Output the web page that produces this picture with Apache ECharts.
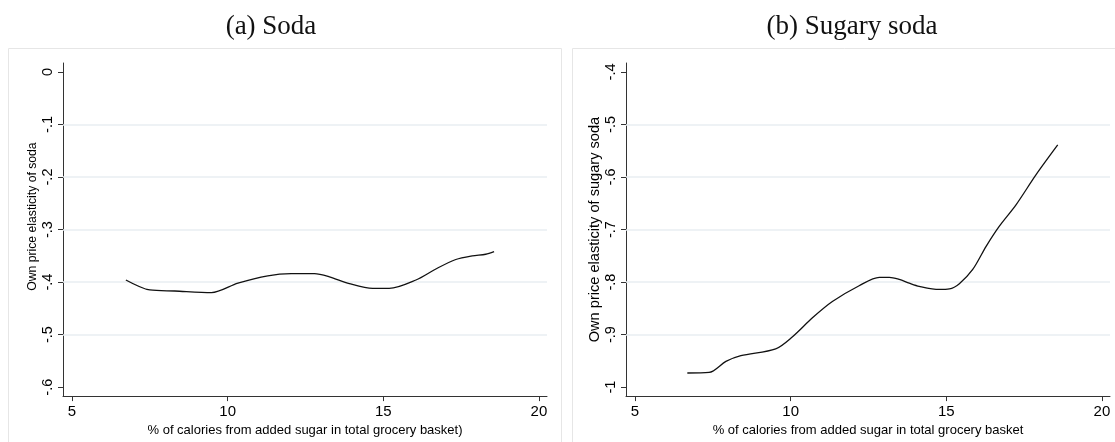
<!DOCTYPE html>
<html>
<head>
<meta charset="utf-8">
<script src="https://cdn.jsdelivr.net/npm/echarts@6/dist/echarts.min.js"></script>
<style>html,body{margin:0;padding:0;background:#fff;}#c{width:1115px;height:442px;}</style>
</head>
<body>
<div id="c"></div>
<script>
// ---- data ----
const panelTitles = ['(a) Soda', '(b) Sugary soda'];
const xTitleA = '% of calories from added sugar in total grocery basket)';
const xTitleB = '% of calories from added sugar in total grocery basket';
const yTitleA = 'Own price elasticity of soda';
const yTitleB = 'Own price elasticity of sugary soda';

const xTicks = [5, 10, 15, 20];
const xTickLabels = ['5', '10', '15', '20'];

const sodaYTicks = [0, -0.1, -0.2, -0.3, -0.4, -0.5, -0.6];
const sodaYTickLabels = ['0', '-.1', '-.2', '-.3', '-.4', '-.5', '-.6'];
const sodaGrid = [-0.1, -0.2, -0.3, -0.4, -0.5];

const sugYTicks = [-0.4, -0.5, -0.6, -0.7, -0.8, -0.9, -1];
const sugYTickLabels = ['-.4', '-.5', '-.6', '-.7', '-.8', '-.9', '-1'];
const sugGrid = [-0.5, -0.6, -0.7, -0.8, -0.9];

const sodaX = [6.73, 7.50, 8.30, 9.48, 10.33, 11.29, 12.04, 12.79, 13.27, 13.91, 14.66, 15.19, 16.05, 16.69, 17.33, 17.86, 18.29, 18.56];
const sodaY = [-0.396, -0.415, -0.417, -0.420, -0.402, -0.388, -0.384, -0.384, -0.390, -0.403, -0.412, -0.412, -0.396, -0.375, -0.357, -0.350, -0.347, -0.342];

const sugX = [6.68, 7.38, 7.92, 8.40, 9.52, 10.06, 10.70, 11.34, 12.20, 12.85, 13.17, 13.49, 13.81, 14.13, 14.77, 15.10, 15.42, 15.85, 16.28, 16.70, 17.24, 17.88, 18.58];
const sugY = [-0.973, -0.972, -0.951, -0.940, -0.927, -0.904, -0.868, -0.837, -0.807, -0.791, -0.791, -0.795, -0.802, -0.808, -0.814, -0.813, -0.803, -0.776, -0.732, -0.694, -0.653, -0.596, -0.539];

// ---- chart ----
function lookup(vals, labels) {
  return function (v) {
    for (let i = 0; i < vals.length; i++) if (Math.abs(vals[i] - v) < 1e-6) return labels[i];
    return '';
  };
}
const axisColor = '#333';
const sans = 'Liberation Sans, Arial, sans-serif';
const gridColor = '#e9eef2';

function xAxisCfg(gi, name) {
  return {
    gridIndex: gi, type: 'value', min: 4.71, max: 20.26,
    axisLine: { show: true, onZero: false, lineStyle: { color: axisColor, width: 1 } },
    axisTick: { show: true, length: 5, customValues: xTicks, lineStyle: { color: axisColor } },
    axisLabel: { customValues: xTicks, formatter: lookup(xTicks, xTickLabels), margin: 8, fontSize: 15, color: '#000', fontFamily: sans },
    splitLine: { show: false },
    name: name, nameLocation: 'middle', nameGap: 19,
    nameTextStyle: { fontSize: 13, color: '#000', fontFamily: sans }
  };
}
function yAxisCfg(gi, min, max, ticks, labels, name, nameSize, gap, pad) {
  return {
    gridIndex: gi, type: 'value', min: min, max: max,
    axisLine: { show: true, onZero: false, lineStyle: { color: axisColor, width: 1 } },
    axisTick: { show: true, length: 5, customValues: ticks, lineStyle: { color: axisColor } },
    axisLabel: { customValues: ticks, formatter: lookup(ticks, labels), rotate: 90, margin: 8, fontSize: 14.5, color: '#000', fontFamily: sans },
    splitLine: { show: false },
    name: name, nameLocation: 'middle', nameGap: gap, nameRotate: 90,
    nameTextStyle: { fontSize: nameSize, color: '#000', fontFamily: sans, padding: pad }
  };
}
function gridLines(vals) {
  return {
    silent: true, symbol: 'none', label: { show: false },
    lineStyle: { color: gridColor, width: 1.5, type: 'solid' },
    data: vals.map(v => ({ yAxis: v }))
  };
}

const chart = echarts.init(document.getElementById('c'), null, { renderer: 'canvas' });
chart.setOption({
  backgroundColor: '#fff',
  animation: false,
  title: [
    { text: panelTitles[0], left: 266, top: 8, textAlign: 'center', textStyle: { fontFamily: 'Liberation Serif, serif', fontSize: 27, fontWeight: 'normal', color: '#111' } },
    { text: panelTitles[1], left: 847, top: 8, textAlign: 'center', textStyle: { fontFamily: 'Liberation Serif, serif', fontSize: 27, fontWeight: 'normal', color: '#111' } }
  ],
  graphic: [
    { type: 'rect', shape: { x: 8.5, y: 48.5, width: 553, height: 420 }, style: { fill: 'none', stroke: '#e6e6e6', lineWidth: 1 }, z: -10 },
    { type: 'rect', shape: { x: 572.5, y: 48.5, width: 560, height: 420 }, style: { fill: 'none', stroke: '#e6e6e6', lineWidth: 1 }, z: -10 }
  ],
  grid: [
    { left: 63, top: 63, width: 484, height: 334 },
    { left: 626, top: 63, width: 484, height: 334 }
  ],
  xAxis: [xAxisCfg(0, xTitleA), xAxisCfg(1, xTitleB)],
  yAxis: [
    yAxisCfg(0, -0.617, 0.017, sodaYTicks, sodaYTickLabels, yTitleA, 12.2, 24, [0, 0, 0, 26]),
    yAxisCfg(1, -1.017, -0.383, sugYTicks, sugYTickLabels, yTitleB, 14.6, 22, [0, 0, 0, 0])
  ],
  series: [
    {
      type: 'line', xAxisIndex: 0, yAxisIndex: 0, showSymbol: false, smooth: 0.3,
      data: sodaX.map((x, i) => [x, sodaY[i]]),
      lineStyle: { color: '#111', width: 1.3 },
      markLine: gridLines(sodaGrid), z: 5
    },
    {
      type: 'line', xAxisIndex: 1, yAxisIndex: 1, showSymbol: false, smooth: 0.3,
      data: sugX.map((x, i) => [x, sugY[i]]),
      lineStyle: { color: '#111', width: 1.3 },
      markLine: gridLines(sugGrid), z: 5
    }
  ]
});
</script>
</body>
</html>
